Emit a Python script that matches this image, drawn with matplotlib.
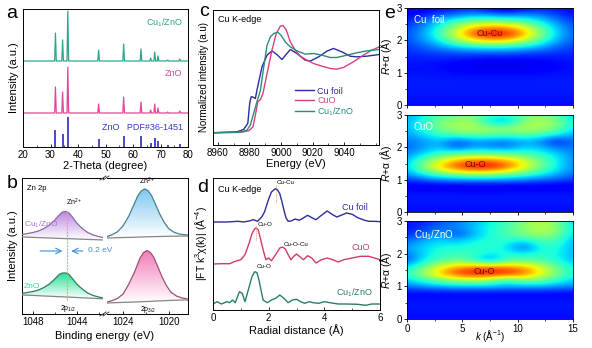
import numpy as np
import matplotlib
matplotlib.use('Agg')
import matplotlib.pyplot as plt
from matplotlib.colors import LinearSegmentedColormap
from matplotlib.ticker import MultipleLocator
from matplotlib.lines import Line2D

plt.rcParams['font.family'] = ['Liberation Sans', 'DejaVu Sans']
plt.rcParams['mathtext.fontset'] = 'custom'
plt.rcParams['mathtext.rm'] = 'Liberation Sans'
plt.rcParams['mathtext.it'] = 'Liberation Sans:italic'

# ---------- a: XRD ----------
zno_peaks = [31.8, 34.4, 36.3, 47.5, 56.6, 62.9, 66.4, 67.9, 69.1, 72.6, 77.0]
cu1_xrd_h = [28, 21, 50, 11, 17, 12, 3, 9, 5, 1, 2]
zno_xrd_h = [26, 21, 46, 9, 16, 11, 3, 9, 5, 1, 2]
pdf_h = [17, 13, 30, 8, 11, 11, 4, 9, 6, 2, 3]

# ---------- b: XPS Zn 2p ----------
b_left_e = [1049.0, 1048.5, 1048.0, 1047.5, 1047.0, 1046.5, 1046.0, 1045.6, 1045.3,
            1045.0, 1044.7, 1044.4, 1044.0, 1043.5, 1043.0, 1042.5, 1042.0, 1041.6]
cu1_l_env = [79.5, 80.5, 81.5, 83, 85.5, 89, 94, 99, 102, 102.5, 101, 97, 91, 85.5, 81.5, 79, 77.5, 76.5]
cu1_l_bg = [77, 76.8, 76.6, 76.4, 76.2, 76, 75.8, 75.6, 75.5, 75.4, 75.3, 75.2, 75, 74.8, 74.6, 74.4, 74.2, 74]
zno_l_env = [20.5, 21.5, 22.5, 24, 26.5, 30, 35, 39.5, 41, 41, 39.5, 35.5, 30, 25, 21, 18.5, 17, 16]
zno_l_bg = [19, 18.8, 18.6, 18.3, 18, 17.8, 17.5, 17.3, 17.2, 17, 16.9, 16.7, 16.5, 16.2, 16, 15.7, 15.4, 15.2]

b_right_e1 = [1025.4, 1025.0, 1024.5, 1024.0, 1023.5, 1023.0, 1022.7, 1022.4, 1022.1,
              1021.8, 1021.5, 1021.2, 1020.8, 1020.4, 1020.0, 1019.5, 1019.0, 1018.3]
cu1_r_env = [77.4, 79, 82.1, 88.0, 97.7, 110.4, 118.2, 123.1, 125.1, 123.3, 118.6, 111, 100.5, 92, 85.4, 81.6, 79.8, 79]
cu1_r_bg = [76, 76.1, 76.3, 76.5, 76.6, 76.8, 76.9, 77, 77.1, 77.2, 77.3, 77.4, 77.5, 77.6, 77.7, 77.8, 77.9, 78]
b_right_e2 = [1025.4, 1025.0, 1024.5, 1024.0, 1023.5, 1023.0, 1022.5, 1022.2, 1021.9,
              1021.6, 1021.3, 1021.0, 1020.6, 1020.2, 1019.8, 1019.3, 1018.8, 1018.3]
zno_r_env = [12, 13.2, 15.5, 19.8, 29.7, 41.6, 56.1, 61.4, 63.5, 61.6, 56.7, 48.7, 37.7, 28.7, 21.8, 17.9, 16, 15]
zno_r_bg = [11, 11.2, 11.4, 11.6, 11.8, 12, 12.2, 12.4, 12.5, 12.6, 12.8, 13, 13.2, 13.4, 13.6, 13.8, 14, 14]

# ---------- c: XANES ----------
foil_e = [8957.1, 8972.2, 8976.4, 8979.0, 8980.2, 8981.1, 8981.9, 8983.8, 8984.8, 8988.0, 8991.2,
          8994.3, 8997.9, 9000.6, 9003.8, 9005.9, 9010.1, 9015.3, 9018.5, 9023.8, 9029.0, 9033.2,
          9038.5, 9043.7, 9047.9, 9054.3, 9062.2]
foil_mu = [0.005, 0.019, 0.052, 0.138, 0.424, 0.519, 0.519, 0.495, 0.614, 0.948, 1.114, 1.176, 1.114,
           1.052, 1.138, 1.195, 1.138, 1.043, 1.029, 1.09, 1.171, 1.21, 1.162, 1.1, 1.09, 1.1, 1.124]
cuo_e = [8957.1, 8974.3, 8979.6, 8982.3, 8984.0, 8985.3, 8987.0, 8988.6, 8991.2, 8994.3, 8997.0,
         8999.6, 9001.3, 9003.4, 9005.9, 9009.0, 9012.2, 9016.4, 9020.6, 9025.9, 9031.1, 9035.3,
         9039.5, 9045.8, 9052.1, 9057.4, 9062.2]
cuo_mu = [0.005, 0.01, 0.033, 0.09, 0.281, 0.448, 0.481, 0.567, 0.852, 1.186, 1.424, 1.529, 1.538,
          1.471, 1.305, 1.186, 1.1, 1.043, 0.995, 0.957, 0.924, 0.914, 0.938, 1.019, 1.114, 1.186, 1.233]
cu1_e = [8957.1, 8974.3, 8978.5, 8980.6, 8982.7, 8984.8, 8987.0, 8989.1, 8991.2, 8993.3, 8995.4,
         8997.9, 9000.0, 9002.7, 9005.9, 9010.1, 9015.3, 9020.6, 9025.9, 9031.1, 9035.3, 9041.6,
         9047.9, 9054.3, 9062.2]
cu1_mu = [0.005, 0.014, 0.043, 0.114, 0.281, 0.448, 0.614, 0.948, 1.257, 1.376, 1.424, 1.443, 1.4,
          1.305, 1.233, 1.176, 1.129, 1.138, 1.114, 1.081, 1.081, 1.114, 1.148, 1.176, 1.195]
c_ticks = [8960, 8980, 9000, 9020, 9040]

# ---------- d: FT-EXAFS ----------
foil_r = [0, 0.5, 0.9, 1.1, 1.3, 1.45, 1.6, 1.75, 1.85, 2.0, 2.1, 2.18, 2.25, 2.32, 2.4, 2.48, 2.55,
          2.62, 2.7, 2.8, 2.95, 3.1, 3.2, 3.4, 3.55, 3.7, 3.85, 4.1, 4.3, 4.45, 4.6, 4.8, 5.0, 5.2,
          5.45, 5.6, 5.8, 6.0]
foil_ft = [0, 0, 0.7, 0, 1, 2.3, 0.7, 5, 10, 23, 30, 32, 33.3, 32, 28.3, 20, 11.7, 4.3, 0.7, 1, 3,
           1.7, 3.3, 6.7, 4.3, 2.3, 5.7, 11, 7.3, 5, 6.7, 9, 7.7, 4.3, 1.7, 0.7, 0.7, 0.3]
cuo_r = [0, 0.3, 0.6, 0.8, 1.0, 1.15, 1.3, 1.4, 1.5, 1.55, 1.62, 1.7, 1.8, 1.9, 2.0, 2.1, 2.25, 2.4,
         2.5, 2.6, 2.7, 2.8, 2.9, 3.0, 3.1, 3.25, 3.4, 3.55, 3.7, 3.9, 4.1, 4.3, 4.5, 4.7, 5.0, 5.3,
         5.6, 5.8, 6.0]
cuo_ft = [0, 0.3, 0.3, 2.7, 4.3, 9.3, 21, 30.3, 35.3, 36, 34.3, 26, 14.3, 4.3, 6, 3.3, 9.3, 16, 17,
          15, 9.3, 4.3, 7.7, 10, 7.7, 4.3, 8.3, 6, 1, 4.3, 6, 4.3, 2, 4.3, 6, 7.7, 7.7, 6, 4.3]
cu1_r = [0, 0.15, 0.3, 0.5, 0.6, 0.7, 0.8, 0.95, 1.05, 1.15, 1.3, 1.4, 1.5, 1.58, 1.65, 1.8, 1.95,
         2.1, 2.25, 2.4, 2.55, 2.7, 2.85, 3.0, 3.15, 3.3, 3.45, 3.6, 3.8, 4.0, 4.2, 4.5, 4.8, 5.2,
         5.5, 5.7, 6.0]
cu1_ft = [0, 2.3, 0, 2.3, 1.3, 4, 1.3, 12.3, 10.7, 2.3, 17.3, 27.3, 32.3, 31.3, 24, 4, 1.3, 4, 5.7,
          9, 5.7, 1.3, 4, 4.7, 2.3, 0.7, 2.3, 1.3, 0.7, 2.3, 1.3, 0, 0, -0.3, -1.3, 0, 0]

# ---------- e: wavelet transform maps (rows R = 3.0 ... 0.0, cols k = 0 ... 15) ----------
wt_foil = [
    [0.10, 0.10, 0.12, 0.14, 0.15, 0.10, 0.07, 0.11, 0.15, 0.14, 0.12],
    [0.12, 0.15, 0.20, 0.24, 0.28, 0.26, 0.22, 0.26, 0.24, 0.19, 0.14],
    [0.15, 0.22, 0.33, 0.42, 0.48, 0.50, 0.48, 0.44, 0.36, 0.26, 0.18],
    [0.18, 0.27, 0.40, 0.56, 0.70, 0.76, 0.74, 0.64, 0.47, 0.32, 0.21],
    [0.20, 0.29, 0.43, 0.62, 0.84, 0.93, 0.91, 0.76, 0.53, 0.34, 0.22],
    [0.20, 0.27, 0.38, 0.53, 0.65, 0.71, 0.69, 0.59, 0.45, 0.30, 0.21],
    [0.18, 0.22, 0.27, 0.33, 0.37, 0.39, 0.38, 0.35, 0.30, 0.23, 0.18],
    [0.16, 0.18, 0.19, 0.20, 0.20, 0.20, 0.20, 0.19, 0.18, 0.17, 0.16],
    [0.15, 0.15, 0.15, 0.14, 0.13, 0.12, 0.12, 0.12, 0.13, 0.14, 0.15],
    [0.14, 0.14, 0.13, 0.11, 0.09, 0.08, 0.08, 0.09, 0.10, 0.12, 0.14],
    [0.14, 0.14, 0.14, 0.13, 0.13, 0.13, 0.13, 0.13, 0.13, 0.14, 0.14],
    [0.15, 0.15, 0.15, 0.15, 0.15, 0.15, 0.15, 0.15, 0.15, 0.15, 0.15],
    [0.15, 0.15, 0.15, 0.15, 0.15, 0.15, 0.15, 0.15, 0.15, 0.15, 0.15],
    [0.15, 0.15, 0.15, 0.15, 0.15, 0.15, 0.15, 0.15, 0.15, 0.15, 0.15],
    [0.14, 0.14, 0.14, 0.14, 0.14, 0.14, 0.14, 0.14, 0.14, 0.14, 0.14],
    [0.14, 0.14, 0.14, 0.14, 0.14, 0.14, 0.14, 0.14, 0.14, 0.14, 0.14],
]
wt_cuo = [
    [0.28, 0.36, 0.44, 0.48, 0.50, 0.44, 0.40, 0.48, 0.50, 0.46, 0.32],
    [0.30, 0.40, 0.50, 0.54, 0.54, 0.32, 0.28, 0.50, 0.56, 0.52, 0.36],
    [0.30, 0.40, 0.50, 0.55, 0.57, 0.54, 0.52, 0.57, 0.56, 0.50, 0.36],
    [0.28, 0.34, 0.42, 0.46, 0.48, 0.48, 0.46, 0.47, 0.45, 0.38, 0.30],
    [0.24, 0.28, 0.32, 0.20, 0.28, 0.26, 0.24, 0.30, 0.26, 0.14, 0.24],
    [0.22, 0.28, 0.32, 0.20, 0.28, 0.26, 0.24, 0.32, 0.32, 0.24, 0.24],
    [0.26, 0.34, 0.42, 0.46, 0.48, 0.48, 0.46, 0.44, 0.40, 0.34, 0.26],
    [0.30, 0.46, 0.60, 0.72, 0.78, 0.78, 0.72, 0.62, 0.48, 0.37, 0.26],
    [0.32, 0.52, 0.70, 0.85, 0.93, 0.93, 0.83, 0.66, 0.50, 0.37, 0.26],
    [0.28, 0.40, 0.50, 0.56, 0.60, 0.58, 0.54, 0.48, 0.40, 0.32, 0.24],
    [0.18, 0.22, 0.25, 0.27, 0.28, 0.28, 0.27, 0.25, 0.23, 0.21, 0.18],
    [0.10, 0.10, 0.10, 0.09, 0.09, 0.09, 0.09, 0.10, 0.10, 0.10, 0.10],
    [0.14, 0.14, 0.14, 0.14, 0.14, 0.14, 0.14, 0.14, 0.14, 0.14, 0.14],
    [0.15, 0.15, 0.15, 0.15, 0.15, 0.15, 0.15, 0.15, 0.15, 0.15, 0.15],
    [0.14, 0.14, 0.14, 0.14, 0.14, 0.14, 0.14, 0.14, 0.14, 0.14, 0.14],
    [0.14, 0.14, 0.14, 0.14, 0.14, 0.14, 0.14, 0.14, 0.14, 0.14, 0.14],
]
wt_cu1 = [
    [0.14, 0.16, 0.20, 0.24, 0.30, 0.36, 0.42, 0.50, 0.56, 0.52, 0.32],
    [0.14, 0.18, 0.24, 0.26, 0.32, 0.38, 0.44, 0.52, 0.58, 0.54, 0.34],
    [0.16, 0.22, 0.28, 0.18, 0.30, 0.38, 0.44, 0.50, 0.55, 0.50, 0.34],
    [0.22, 0.30, 0.34, 0.32, 0.36, 0.40, 0.40, 0.36, 0.44, 0.44, 0.30],
    [0.28, 0.34, 0.38, 0.38, 0.40, 0.40, 0.36, 0.20, 0.38, 0.40, 0.30],
    [0.24, 0.34, 0.40, 0.42, 0.42, 0.36, 0.40, 0.36, 0.40, 0.38, 0.30],
    [0.20, 0.36, 0.44, 0.48, 0.40, 0.24, 0.42, 0.46, 0.44, 0.38, 0.32],
    [0.34, 0.47, 0.62, 0.72, 0.76, 0.78, 0.76, 0.72, 0.62, 0.47, 0.36],
    [0.40, 0.55, 0.72, 0.86, 0.93, 0.93, 0.91, 0.83, 0.66, 0.51, 0.38],
    [0.34, 0.42, 0.50, 0.56, 0.58, 0.54, 0.40, 0.52, 0.50, 0.42, 0.34],
    [0.24, 0.28, 0.30, 0.32, 0.32, 0.32, 0.30, 0.30, 0.30, 0.28, 0.26],
    [0.12, 0.12, 0.12, 0.12, 0.12, 0.12, 0.12, 0.12, 0.12, 0.12, 0.12],
    [0.14, 0.14, 0.14, 0.14, 0.14, 0.14, 0.14, 0.14, 0.14, 0.14, 0.14],
    [0.15, 0.15, 0.15, 0.15, 0.15, 0.15, 0.15, 0.15, 0.15, 0.15, 0.15],
    [0.14, 0.14, 0.14, 0.14, 0.14, 0.14, 0.14, 0.14, 0.14, 0.14, 0.14],
    [0.14, 0.14, 0.14, 0.14, 0.14, 0.14, 0.14, 0.14, 0.14, 0.14, 0.14],
]

W, H = 592, 348
fig = plt.figure(figsize=(W / 100, H / 100), dpi=100)


def box(x0, y0, x1, y1):
    # pixel box (top-left origin) -> figure fraction
    return [x0 / W, 1 - y1 / H, (x1 - x0) / W, (y1 - y0) / H]


def xrd_trace(base, heights, w=0.3):
    x, y = [20.0], [base]
    for p, h in zip(zno_peaks, heights):
        x += [p - w, p, p + w]
        y += [base, base + h, base]
    x.append(80.0)
    y.append(base)
    return x, y


def grad_fill(ax, x, bg, env, color):
    poly = ax.fill_between(x, bg, env, color='none', lw=0)
    cmap = LinearSegmentedColormap.from_list('g', ['white', color])
    grad = np.linspace(0, 1, 64).reshape(-1, 1)
    im = ax.imshow(grad, extent=[min(x), max(x), min(bg), max(env)], origin='lower',
                   aspect='auto', cmap=cmap, zorder=1)
    im.set_clip_path(poly.get_paths()[0], transform=ax.transData)


tk = dict(labelsize=7, direction='in', length=2.5, width=0.6, pad=2)
tkm = dict(direction='in', length=1.5, width=0.5)

# ---------- panel a ----------
ax = fig.add_axes(box(23, 9, 188, 147))
x, y = xrd_trace(86, cu1_xrd_h)
ax.plot(x, y, color='#2fa68c', lw=0.9)
x, y = xrd_trace(34, zno_xrd_h)
ax.plot(x, y, color='#e0479c', lw=0.9)
ax.vlines(zno_peaks, 0, pdf_h, color='#3a3ac4', lw=1.3)
ax.set_xlim(20, 80)
ax.set_ylim(0, 138)
ax.set_yticks([])
ax.xaxis.set_major_locator(MultipleLocator(10))
ax.xaxis.set_minor_locator(MultipleLocator(5))
ax.tick_params(axis='x', which='major', **tk)
ax.tick_params(axis='x', which='minor', **tkm)
ax.set_xlabel('2-Theta (degree)', fontsize=8, labelpad=1)
ax.set_ylabel('Intensity (a.u.)', fontsize=8, labelpad=3)
ax.text(78, 124, 'Cu$_1$/ZnO', color='#2fa68c', fontsize=6.5, ha='right', va='center')
ax.text(78, 74, 'ZnO', color='#e0479c', fontsize=6.5, ha='right', va='center')
ax.text(78, 20, 'ZnO   PDF#36-1451', color='#3a3ac4', fontsize=6.5, ha='right', va='center')
for s in ax.spines.values():
    s.set_linewidth(0.7)

# ---------- panel b ----------
axl = fig.add_axes(box(22, 178, 103, 314))
axr = fig.add_axes(box(107, 178, 188, 314))
axr.patch.set_visible(False)
grad_fill(axl, b_left_e, cu1_l_bg, cu1_l_env, '#b987e0')
grad_fill(axl, b_left_e, zno_l_bg, zno_l_env, '#2fe09a')
axl.plot(b_left_e, cu1_l_env, color='#8a6a9e', lw=0.9, zorder=3)
axl.plot(b_left_e, cu1_l_bg, color='#858585', lw=0.9, zorder=3)
axl.plot(b_left_e, zno_l_env, color='#2e7d5b', lw=0.9, zorder=3)
axl.plot(b_left_e, zno_l_bg, color='#858585', lw=0.9, zorder=3)
grad_fill(axr, b_right_e1, cu1_r_bg, cu1_r_env, '#7cc8f0')
grad_fill(axr, b_right_e2, zno_r_bg, zno_r_env, '#f07cb8')
axr.plot(b_right_e1, cu1_r_env, color='#4d7f90', lw=0.9, zorder=3)
axr.plot(b_right_e1, cu1_r_bg, color='#858585', lw=0.9, zorder=3)
axr.plot(b_right_e2, zno_r_env, color='#9c5275', lw=0.9, zorder=3)
axr.plot(b_right_e2, zno_r_bg, color='#858585', lw=0.9, zorder=3)

axl.plot([1044.9, 1044.9], [14, 104], color='#f3a070', lw=0.8, ls=(0, (2, 1)), zorder=4)
axl.annotate('', xy=(1045.05, 63), xytext=(1047.6, 63),
             arrowprops=dict(arrowstyle='->', color='#3d8fd6', lw=0.8))
axl.annotate('', xy=(1044.75, 63), xytext=(1043.2, 63),
             arrowprops=dict(arrowstyle='->', color='#3d8fd6', lw=0.8))
axl.text(1043.0, 63, '0.2 eV', color='#3d8fd6', fontsize=6, va='center', ha='left',
         clip_on=False, zorder=6)
axl.text(0.06, 0.95, 'Zn 2p', transform=axl.transAxes, fontsize=5.5, va='top')
axl.text(1048.8, 89, 'Cu$_1$/ZnO', color='#b070d8', fontsize=6, va='center')
axl.text(1048.8, 28, 'ZnO', color='#30d890', fontsize=6, va='center')
axl.text(1044.2, 106, 'Zn$^{2+}$', fontsize=5, ha='center', va='bottom')
axl.text(1044.8, 5, '2p$_{1/2}$', fontsize=5, ha='center', va='center')
axr.text(1021.9, 127, 'Zn$^{2+}$', fontsize=5, ha='center', va='bottom')
axr.text(1021.8, 4.5, '2p$_{3/2}$', fontsize=5, ha='center', va='center')

axl.set_xlim(1049.0, 1041.6)
axr.set_xlim(1025.4, 1018.3)
for a in (axl, axr):
    a.set_ylim(0, 136)
    a.set_yticks([])
    a.xaxis.set_minor_locator(MultipleLocator(2))
    a.tick_params(axis='x', which='major', **tk)
    a.tick_params(axis='x', which='minor', **tkm)
    for s in a.spines.values():
        s.set_linewidth(0.7)
axl.set_xticks([1048, 1044])
axr.set_xticks([1024, 1020])
axl.spines['right'].set_visible(False)
axr.spines['left'].set_visible(False)
axl.set_ylabel('Intensity (a.u.)', fontsize=8, labelpad=3)
fig.text(105 / W, 1 - 336 / H, 'Binding energy (eV)', fontsize=8, ha='center', va='center')
for yy in (178, 314):
    for dx in (0, 3):
        fig.add_artist(Line2D([(100 + dx) / W, (106 + dx) / W],
                              [1 - (yy + 2) / H, 1 - (yy - 2) / H], color='#444444', lw=0.7))

# ---------- panel c ----------
ax = fig.add_axes(box(213, 10, 379, 145))
ax.plot(foil_e, foil_mu, color='#2b2ba3', lw=1.0, label='Cu foil')
ax.plot(cuo_e, cuo_mu, color='#d8407e', lw=1.0, label='CuO')
ax.plot(cu1_e, cu1_mu, color='#2c8c7a', lw=1.0, label='Cu$_1$/ZnO')
ax.set_xlim(8957, 9062)
ax.set_ylim(-0.17, 1.76)
ax.set_yticks([])
ax.set_xticks(c_ticks)
ax.xaxis.set_minor_locator(MultipleLocator(10))
ax.tick_params(axis='x', which='major', **tk)
ax.tick_params(axis='x', which='minor', **tkm)
ax.set_xlabel('Energy (eV)', fontsize=8, labelpad=1)
ax.set_ylabel('Normalized intensity (a.u)', fontsize=7, labelpad=3)
ax.text(0.03, 0.96, 'Cu K-edge', transform=ax.transAxes, fontsize=6.5, va='top')
leg = ax.legend(loc='upper left', bbox_to_anchor=(0.47, 0.46), frameon=False, fontsize=6.5,
                handlelength=2.2, labelspacing=0.05, handletextpad=0.3, borderaxespad=0)
for t, c in zip(leg.get_texts(), ['#2b2ba3', '#d8407e', '#2c8c7a']):
    t.set_color(c)
for s in ax.spines.values():
    s.set_linewidth(0.7)

# ---------- panel d ----------
ax = fig.add_axes(box(213, 178, 380, 310))
ax.plot(foil_r, np.array(foil_ft) + 88, color='#2d2d9e', lw=1.0)
ax.plot(cuo_r, np.array(cuo_ft) + 46, color='#d23a70', lw=1.0)
ax.plot(cu1_r, np.array(cu1_ft) + 6, color='#2c7c6c', lw=1.0)
ax.plot([2.25, 2.25], [108, 126], color='#e09060', lw=0.6, ls=(0, (1, 1)))
ax.plot([1.55, 1.55], [70, 84], color='#e09060', lw=0.6, ls=(0, (1, 1)))
ax.text(2.3, 127, 'Cu-Cu', fontsize=4.5, va='center')
ax.text(1.6, 85, 'Cu-O', fontsize=4.5, va='center')
ax.text(2.55, 66, 'Cu-O-Cu', fontsize=4.5, va='center')
ax.text(1.55, 44, 'Cu-O', fontsize=4.5, va='center')
ax.text(5.55, 103, 'Cu foil', color='#2d2d9e', fontsize=6.5, ha='right', va='center')
ax.text(5.65, 63, 'CuO', color='#d23a70', fontsize=6.5, ha='right', va='center')
ax.text(5.75, 17, 'Cu$_1$/ZnO', color='#2c7c6c', fontsize=6.5, ha='right', va='center')
ax.text(0.03, 0.95, 'Cu K-edge', transform=ax.transAxes, fontsize=6.5, va='top')
ax.set_xlim(0, 6)
ax.set_ylim(0, 132)
ax.set_yticks([])
ax.xaxis.set_major_locator(MultipleLocator(2))
ax.xaxis.set_minor_locator(MultipleLocator(1))
ax.tick_params(axis='x', which='major', **tk)
ax.tick_params(axis='x', which='minor', **tkm)
ax.set_xlabel('Radial distance (Å)', fontsize=8, labelpad=1)
ax.set_ylabel('|FT k$^3$χ(k)| (Å$^{-4}$)', fontsize=7.5, labelpad=3)
for s in ax.spines.values():
    s.set_linewidth(0.7)

# ---------- panel e ----------
e_boxes = [(407, 8, 573, 105), (407, 115, 573, 212), (407, 221, 573, 319)]
e_maps = [wt_foil, wt_cuo, wt_cu1]
e_names = ['Cu  foil', 'CuO', 'Cu$_1$/ZnO']
e_bond = [('Cu-Cu', 7.5, 2.2), ('Cu-O', 6.2, 1.47), ('Cu-O', 7.0, 1.45)]
for i in range(3):
    ax = fig.add_axes(box(*e_boxes[i]))
    ax.imshow(np.array(e_maps[i]), extent=[-0.75, 15.75, -0.1, 3.1], origin='upper',
              aspect='auto', cmap='jet', vmin=0, vmax=1, interpolation='bicubic')
    ax.set_xlim(0, 15)
    ax.set_ylim(0, 3)
    ax.xaxis.set_major_locator(MultipleLocator(5))
    ax.xaxis.set_minor_locator(MultipleLocator(2.5))
    ax.yaxis.set_major_locator(MultipleLocator(1))
    ax.yaxis.set_minor_locator(MultipleLocator(0.5))
    ax.tick_params(which='major', labelsize=7, direction='out', length=2.5, width=0.6, pad=1)
    ax.tick_params(which='minor', direction='out', length=1.5, width=0.5)
    ax.set_ylabel('$R$+α (Å)', fontsize=7.5, labelpad=2)
    ax.text(0.04, 0.93, e_names[i], transform=ax.transAxes, color='white', fontsize=7, va='top')
    b, bx, by = e_bond[i]
    ax.text(bx, by, b, color='#7a0a0a', fontsize=6.5, ha='center', va='center')
    if i < 2:
        ax.tick_params(labelbottom=False)
    for s in ax.spines.values():
        s.set_linewidth(0.6)
fig.text(490 / W, 1 - 336 / H, '$k$ (Å$^{-1}$)', fontsize=7, ha='center', va='center')

# panel letters
for lab, px, py in [('a', 12, 13), ('b', 12, 184), ('c', 204, 12), ('d', 203, 187), ('e', 390, 13)]:
    fig.text(px / W, 1 - py / H, lab, fontsize=14, ha='center', va='center')

fig.savefig('out.png', dpi=100)
